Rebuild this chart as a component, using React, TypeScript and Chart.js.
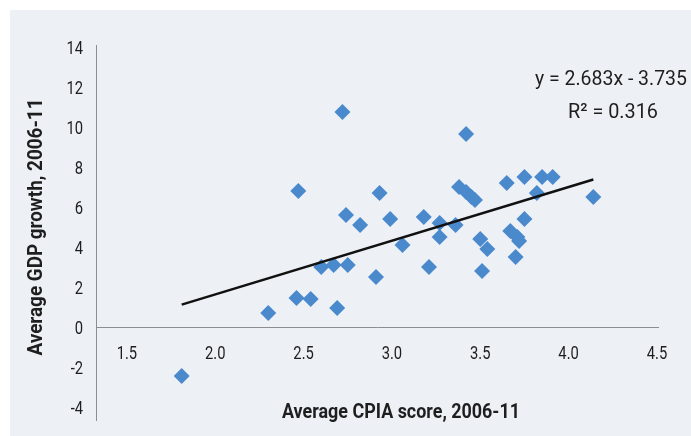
import React, { useEffect, useRef } from "react";
import { Chart, registerables } from "chart.js";

Chart.register(...registerables);

const cpiaScore = [1.81, 2.30, 2.46, 2.54, 2.69, 2.47, 2.60, 2.67, 2.75, 2.72, 2.74, 2.82, 2.91, 2.93, 2.99, 3.06, 3.18, 3.21, 3.27, 3.27, 3.36, 3.38, 3.42, 3.42, 3.45, 3.47, 3.50, 3.54, 3.51, 3.65, 3.67, 3.71, 3.70, 3.72, 3.75, 3.75, 3.82, 3.85, 3.91, 4.14];
const gdpGrowth = [-2.45, 0.7, 1.45, 1.4, 0.95, 6.8, 3.0, 3.1, 3.1, 10.75, 5.6, 5.1, 2.5, 6.7, 5.4, 4.1, 5.5, 3.0, 5.2, 4.5, 5.1, 7.0, 6.75, 9.65, 6.5, 6.35, 4.4, 3.9, 2.8, 7.2, 4.8, 4.5, 3.5, 4.3, 5.4, 7.5, 6.7, 7.5, 7.5, 6.5];

const trendSlope = 2.683;
const trendIntercept = -3.735;
const trendX = [1.81, 4.14];

const xTicks = [1.5, 2.0, 2.5, 3.0, 3.5, 4.0, 4.5];
const yTicks = [-4, -2, 0, 2, 4, 6, 8, 10, 12, 14];

const xTitle = "Average CPIA score, 2006-11";
const yTitle = "Average GDP growth, 2006-11";
const eqLine1 = "y = 2.683x - 3.735";
const eqLine2 = "R² = 0.316";

const FONT = "Roboto, 'Liberation Sans', sans-serif";
const TEXT = "#1e1e1e";

function drawText(
  ctx: CanvasRenderingContext2D,
  text: string,
  x: number,
  y: number,
  font: string,
  sx: number,
  align: "left" | "center" | "right",
  targetWidth?: number
) {
  ctx.save();
  ctx.font = font;
  ctx.textBaseline = "middle";
  ctx.textAlign = align;
  let scale = sx;
  if (targetWidth) {
    const w = ctx.measureText(text).width;
    scale = targetWidth / w;
  }
  ctx.translate(x, y);
  ctx.scale(scale, 1);
  ctx.fillText(text, 0, 0);
  ctx.restore();
}

export default function App() {
  const ref = useRef<HTMLCanvasElement | null>(null);

  useEffect(() => {
    if (!ref.current) return;
    const textPlugin = {
      id: "textPlugin",
      afterDraw(chart: any) {
        const ctx: CanvasRenderingContext2D = chart.ctx;
        const xs = chart.scales.x;
        const ys = chart.scales.y;
        ctx.save();
        ctx.fillStyle = TEXT;
        const tickFont = `18px ${FONT}`;
        const y0 = ys.getPixelForValue(0);
        xs.ticks.forEach((t: any) => {
          drawText(ctx, Number(t.value).toFixed(1), xs.getPixelForValue(t.value), y0 + 27, tickFont, 0.82, "center");
        });
        ys.ticks.forEach((t: any) => {
          drawText(ctx, String(t.value), ys.right - 13, ys.getPixelForValue(t.value) + 2, tickFont, 0.82, "right");
        });
        const titleFont = `bold 21px ${FONT}`;
        drawText(ctx, xTitle, 401, 413, titleFont, 1, "center", 238);
        ctx.save();
        ctx.translate(37, 227);
        ctx.rotate(-Math.PI / 2);
        drawText(ctx, yTitle, 0, 0, titleFont, 1, "center", 257);
        ctx.restore();
        const eqFont = `21px ${FONT}`;
        drawText(ctx, eqLine1, 611, 80, eqFont, 1, "center", 152);
        drawText(ctx, eqLine2, 613, 113, eqFont, 1, "center", 90);
        ctx.restore();
      },
    };

    const chart = new Chart(ref.current, {
      type: "scatter",
      data: {
        datasets: [
          {
            type: "line",
            data: trendX.map((x) => ({ x, y: trendSlope * x + trendIntercept })),
            borderColor: "#111111",
            borderWidth: 2.5,
            pointRadius: 0,
            fill: false,
          } as any,
          {
            data: cpiaScore.map((x, i) => ({ x, y: gdpGrowth[i] })),
            pointStyle: "rectRot",
            pointRadius: 8,
            backgroundColor: "rgb(74,137,204)",
            borderColor: "rgb(74,137,204)",
            borderWidth: 0,
          },
        ],
      },
      options: {
        animation: false,
        responsive: true,
        maintainAspectRatio: false,
        layout: { padding: { left: 0, top: 45, right: 33, bottom: 16 } },
        plugins: { legend: { display: false }, tooltip: { enabled: false } },
        scales: {
          x: {
            type: "linear",
            position: { y: 0 } as any,
            min: 1.325,
            max: 4.506,
            afterBuildTicks: (s: any) => {
              s.ticks = xTicks.map((v) => ({ value: v }));
            },
            afterFit: (s: any) => {
              s.height = 0;
            },
            grid: { display: false, drawTicks: false },
            border: { display: true, color: "#8a8d92", width: 1 },
            ticks: { display: false },
          },
          y: {
            type: "linear",
            position: "left",
            min: -4.65,
            max: 14.1,
            afterBuildTicks: (s: any) => {
              s.ticks = yTicks.map((v) => ({ value: v }));
            },
            afterFit: (s: any) => {
              s.width = 96;
            },
            grid: { display: false, drawTicks: false },
            border: { display: true, color: "#8a8d92", width: 1 },
            ticks: { display: false },
          },
        },
      },
      plugins: [textPlugin],
    });
    return () => chart.destroy();
  }, []);

  return (
    <div style={{ position: "absolute", left: 0, top: 0, width: 691, height: 436, background: "#ffffff" }}>
      <div style={{ position: "absolute", left: 10, top: 10, width: 681, height: 426, background: "#edf1f6" }} />
      <div style={{ position: "absolute", left: 0, top: 0, width: 691, height: 436 }}>
        <canvas ref={ref} />
      </div>
    </div>
  );
}
